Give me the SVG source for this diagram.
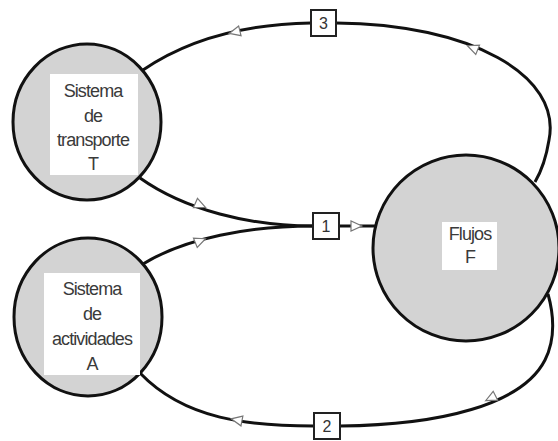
<svg xmlns="http://www.w3.org/2000/svg" width="558" height="441" viewBox="0 0 558 441">
<defs>
<style>
.node{fill:#d3d3d3;stroke:#111;stroke-width:3}
.lbl{fill:#fff}
.t{font-family:"Liberation Sans",Arial,sans-serif;font-size:18px;fill:#3a3a3a;text-anchor:middle;letter-spacing:-0.9px}
.conn{fill:none;stroke:#111;stroke-width:3}
.box{fill:#fff;stroke:#222;stroke-width:2}
.num{font-family:"Liberation Sans",Arial,sans-serif;font-size:16px;fill:#333;text-anchor:middle}
.arr{fill:#fff;stroke:#777;stroke-width:1.2}
</style>
<path id="ah" d="M6,0 L-5,-5 L-5,5 Z"/>
</defs>
<rect width="558" height="441" fill="#fff"/>
<g id="connectors">
<path class="conn" d="M143,70 C190,38 250,24 311,23"/>
<path class="conn" d="M336,23 C470,24 562,75 549,140 Q545,165 535,182"/>
<path class="conn" d="M140,178 C185,210 250,226 313,226"/>
<path class="conn" d="M143,264 C185,238 250,226 313,226"/>
<path class="conn" d="M339,226 L376,226"/>
<path class="conn" d="M140,373 C185,420 250,426 314,426"/>
<path class="conn" d="M340,426 C440,425 522,405 545,360 C556,338 553,312 548,294"/>
<use href="#ah" class="arr" transform="translate(235,32) rotate(166)"/>
<use href="#ah" class="arr" transform="translate(473,48) rotate(202)"/>
<use href="#ah" class="arr" transform="translate(200,205) rotate(24)"/>
<use href="#ah" class="arr" transform="translate(200,241) rotate(-22)"/>
<use href="#ah" class="arr" transform="translate(356,226)"/>
<use href="#ah" class="arr" transform="translate(237,420) rotate(191)"/>
<use href="#ah" class="arr" transform="translate(491,398) rotate(153)"/>
</g>
<g id="node-T">
<ellipse class="node" cx="87" cy="122" rx="74" ry="78"/>
<rect class="lbl" x="50" y="74" width="88" height="101"/>
<text class="t" x="93" y="97">Sistema</text>
<text class="t" x="93" y="122">de</text>
<text class="t" x="93" y="146">transporte</text>
<text class="t" x="93" y="170">T</text>
</g>
<g id="node-A">
<ellipse class="node" cx="88" cy="317" rx="74" ry="79"/>
<rect class="lbl" x="44" y="273" width="96" height="102"/>
<text class="t" x="92" y="295">Sistema</text>
<text class="t" x="92" y="320">de</text>
<text class="t" x="92" y="345">actividades</text>
<text class="t" x="92" y="370">A</text>
</g>
<g id="node-F">
<ellipse class="node" cx="466" cy="248" rx="93" ry="93"/>
<rect class="lbl" x="442" y="222" width="55" height="48"/>
<text class="t" x="470" y="240">Flujos</text>
<text class="t" x="470" y="263">F</text>
</g>
<g id="box-1">
<rect class="box" x="313" y="213" width="26" height="26"/>
<text class="num" x="326" y="232">1</text>
</g>
<g id="box-3">
<rect class="box" x="311" y="10" width="25" height="26"/>
<text class="num" x="323.5" y="29">3</text>
</g>
<g id="box-2">
<rect class="box" x="314" y="413" width="26" height="26"/>
<text class="num" x="327" y="432">2</text>
</g>
</svg>
